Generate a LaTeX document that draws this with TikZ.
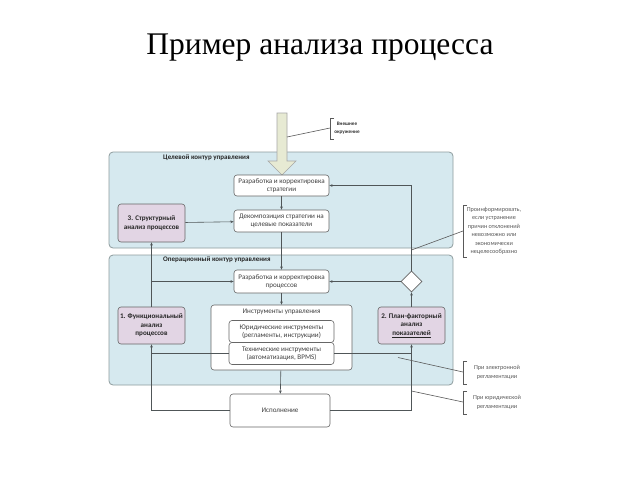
\documentclass[tikz,border=0pt]{standalone}
\usepackage{fontspec}
\setmainfont{Liberation Serif}
\newfontfamily\boxfont{Carlito}
\usetikzlibrary{shapes.geometric,arrows.meta,calc}
\definecolor{panelblue}{HTML}{D6E9EF}
\definecolor{panelline}{HTML}{8E9C9E}
\definecolor{lav}{HTML}{E2D5E4}
\definecolor{arrowfill}{HTML}{E7EAD3}
\definecolor{connc}{HTML}{505658}
\begin{document}
\begin{tikzpicture}[x=1pt,y=-1pt,
  panel/.style={draw=panelline, fill=panelblue, rounded corners=4pt, line width=0.8pt},
  wbox/.style={draw=gray!80!black, fill=white, rounded corners=3pt, line width=0.6pt, align=center,
    font=\boxfont\fontsize{7.1}{8.4}\selectfont, inner sep=0pt, text=black!75},
  pbox/.style={wbox, fill=lav, font=\boxfont\bfseries\fontsize{7.1}{8.6}\selectfont, text=black!85},
  ptitle/.style={anchor=west, font=\boxfont\bfseries\fontsize{7}{8}\selectfont, inner sep=0pt, text=black!85},
  note/.style={anchor=west, align=center, font=\boxfont\fontsize{6.2}{8.4}\selectfont, text=black!65, inner sep=0pt},
  conn/.style={draw=connc, line width=0.6pt, -{Stealth[length=3.2pt,width=2.6pt]}},
  line/.style={draw=connc, line width=0.6pt},
  brk/.style={draw=gray!70!black, line width=0.6pt},
]
\useasboundingbox (0,0) rectangle (640,480);
\fill[white] (0,0) rectangle (640,480);

% title
\node[font=\fontsize{31.5}{34}\selectfont] (title) at (320,48) {Пример анализа процесса};

% panels
\node[panel, minimum width=344, minimum height=96] (top) at (281,200) {};
\node[panel, minimum width=344, minimum height=130] (bot) at (281,320) {};
\node[ptitle] (toptitle) at (163,158) {Целевой контур управления};
\node[ptitle] (bottitle) at (163,260) {Операционный контур управления};

% big external arrow
\draw[draw=gray!70, fill=arrowfill, line width=0.6pt]
  (277,113) -- (287,113) -- (287,161) -- (296,161) -- (282,175) -- (268,161) -- (277,161) -- cycle;
\coordinate (extpt) at (287,137);

% boxes
\node[wbox, minimum width=95, minimum height=21] (s1) at (281.5,185.5) {Разработка и корректировка\\стратегии};
\node[wbox, minimum width=95, minimum height=22] (s2) at (281.5,221) {Декомпозиция стратегии на\\целевые показатели};
\node[pbox, minimum width=67, minimum height=38] (s3) at (151.5,223) {3. Структурный\\анализ процессов};
\node[wbox, minimum width=95, minimum height=23] (p1) at (281.5,281.5) {Разработка и корректировка\\процессов};
\node[wbox, minimum width=141, minimum height=65] (tools) at (281.5,337.5) {};
\node[font=\boxfont\fontsize{7.1}{8}\selectfont, text=black!75, inner sep=0pt] (toolst) at (281.5,312) {Инструменты управления};
\node[wbox, minimum width=105, minimum height=22] (t1) at (281.5,331.5) {Юридические инструменты\\(регламенты, инструкции)};
\node[wbox, minimum width=105, minimum height=22] (t2) at (281.5,353.5) {Технические инструменты\\(автоматизация, BPMS)};
\node[pbox, minimum width=67, minimum height=37] (f1) at (151.5,325.5) {1. Функциональный\\анализ\\процессов};
\node[pbox, minimum width=67, minimum height=37] (f2) at (411.5,325.5) {2. План-факторный\\анализ\\\underline{\smash{показателей}}};
\node[diamond, draw=gray!80!black, fill=white, line width=0.6pt, minimum width=21, minimum height=21, inner sep=0pt] (dia) at (411.5,281.5) {};
\node[wbox, minimum width=100, minimum height=33] (ex) at (280,410.5) {Исполнение};

% connectors
\draw[conn] (s1) -- (s2);
\draw[conn] (s3) -- (s2);
\draw[conn] (s2) -- (p1);
\draw[conn] (p1) -- (tools);
\draw[conn] (tools) -- (ex);
\draw[conn] (f1.north) -- (s3.south);
\coordinate (jl) at (f1.north |- p1.west);
\draw[conn] (jl) -- (p1.west);
\draw[conn] (ex.west) -| (f1.south);
\coordinate (jlt) at (f1.south |- t2.west);
\draw[line] (t2.west) -- (jlt);
\draw[conn] (ex.east) -| (f2.south);
\coordinate (jrt) at (f2.south |- t2.east);
\draw[line] (t2.east) -- (jrt);
\draw[conn] (f2.north) -- (dia.south);
\draw[conn] (dia.west) -- (p1.east);
\draw[conn] (dia.north) |- (s1.east);

% notes with brackets
\draw[brk] (334,118) -- (330,118) -- (330,139) -- (334,139);
\coordinate (b0) at (330,128);
\draw[brk] (extpt) -- (b0);
\node[note, font=\boxfont\bfseries\fontsize{5.2}{8}\selectfont, text=black!80, anchor=center] (n0) at (347,128.5) {Внешнее\\окружение};

\draw[brk] (467,205) -- (463,205) -- (463,257) -- (467,257);
\coordinate (b1) at (463,231);
\coordinate (a1) at (411.5,250);
\draw[brk] (a1) -- (b1);
\node[note, anchor=center] (n1) at (494,231) {Проинформировать,\\если устранение\\причин отклонений\\невозможно или\\экономически\\нецелесообразно};

\draw[brk] (467,361) -- (463,361) -- (463,384) -- (467,384);
\coordinate (b2) at (463,372);
\coordinate (a2) at (398,357.5);
\draw[brk] (a2) -- (b2);
\node[note, anchor=center] (n2) at (497,372.5) {При электронной\\регламентации};

\draw[brk] (467,391) -- (463,391) -- (463,414) -- (467,414);
\coordinate (b3) at (463,402);
\coordinate (a3) at (411.5,391);
\draw[brk] (a3) -- (b3);
\node[note, anchor=center] (n3) at (497,402.5) {При юридической\\регламентации};
\end{tikzpicture}
\end{document}
